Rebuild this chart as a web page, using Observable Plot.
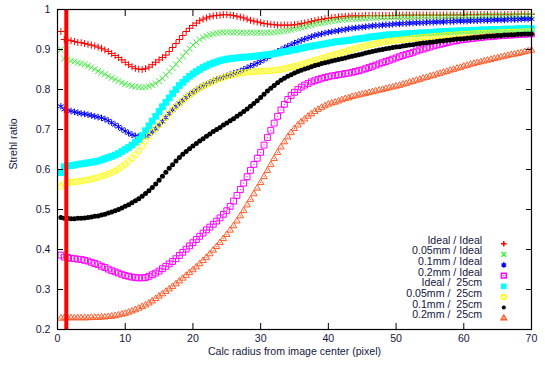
<!DOCTYPE html>
<html>
<head>
<meta charset="utf-8">
<script src="https://cdn.jsdelivr.net/npm/d3@7"></script>
<script src="https://cdn.jsdelivr.net/npm/@observablehq/plot@0.6"></script>
<style>
  html, body { margin: 0; padding: 0; background: #fff; }
  #chart { width: 545px; height: 370px; }
</style>
</head>
<body>
<div id="chart"></div>
<script>
// radius samples (pixel), every half pixel from 0.5 to 70
const radius = Array.from({length: 140}, (_, i) => (i + 1) * 0.5);

const seriesNames = ["Ideal / Ideal", "0.05mm / Ideal", "0.1mm / Ideal", "0.2mm / Ideal",
                     "Ideal /  25cm", "0.05mm /  25cm", "0.1mm /  25cm", "0.2mm /  25cm"];

const idealIdeal = [
0.945,0.925,0.924,0.922,0.920,0.918,0.917,0.915,0.913,0.911,
0.909,0.906,0.903,0.899,0.895,0.890,0.885,0.880,0.874,0.868,
0.862,0.857,0.853,0.851,0.850,0.852,0.856,0.862,0.868,0.874,
0.880,0.886,0.895,0.905,0.915,0.925,0.935,0.945,0.953,0.960,
0.966,0.972,0.976,0.979,0.982,0.984,0.985,0.986,0.987,0.987,
0.986,0.985,0.983,0.981,0.979,0.976,0.973,0.971,0.969,0.967,
0.965,0.964,0.963,0.962,0.961,0.961,0.961,0.961,0.961,0.962,
0.963,0.965,0.966,0.968,0.970,0.972,0.974,0.975,0.977,0.978,
0.979,0.980,0.981,0.982,0.983,0.983,0.984,0.984,0.984,0.984,
0.985,0.985,0.985,0.985,0.985,0.985,0.985,0.985,0.985,0.985,
0.986,0.986,0.986,0.986,0.986,0.986,0.986,0.986,0.986,0.986,
0.986,0.986,0.986,0.986,0.986,0.986,0.986,0.986,0.986,0.986,
0.987,0.987,0.987,0.987,0.987,0.987,0.987,0.987,0.987,0.987,
0.987,0.987,0.987,0.987,0.987,0.988,0.988,0.988,0.988,0.988];

const mm005Ideal = [
0.900,0.877,0.875,0.872,0.870,0.867,0.865,0.863,0.859,0.855,
0.851,0.846,0.842,0.838,0.833,0.829,0.825,0.821,0.817,0.814,
0.811,0.809,0.807,0.806,0.805,0.806,0.808,0.811,0.815,0.821,
0.828,0.836,0.845,0.854,0.863,0.873,0.883,0.893,0.902,0.911,
0.918,0.925,0.930,0.934,0.937,0.939,0.941,0.942,0.943,0.943,
0.943,0.943,0.943,0.942,0.942,0.942,0.942,0.942,0.942,0.942,
0.942,0.942,0.942,0.943,0.944,0.945,0.946,0.948,0.949,0.951,
0.953,0.955,0.957,0.959,0.961,0.963,0.965,0.966,0.968,0.969,
0.971,0.972,0.973,0.974,0.975,0.976,0.976,0.977,0.977,0.978,
0.978,0.979,0.979,0.979,0.980,0.980,0.980,0.980,0.981,0.981,
0.981,0.981,0.981,0.981,0.981,0.982,0.982,0.982,0.982,0.982,
0.982,0.982,0.982,0.982,0.983,0.983,0.983,0.983,0.983,0.983,
0.983,0.983,0.983,0.983,0.984,0.984,0.984,0.984,0.984,0.984,
0.984,0.984,0.984,0.984,0.985,0.985,0.985,0.985,0.985,0.985];

const mm01Ideal = [
0.758,0.750,0.748,0.746,0.744,0.742,0.740,0.739,0.737,0.735,
0.733,0.731,0.729,0.726,0.722,0.717,0.712,0.707,0.701,0.696,
0.691,0.687,0.684,0.682,0.682,0.684,0.688,0.694,0.702,0.711,
0.720,0.730,0.740,0.749,0.758,0.766,0.773,0.780,0.787,0.793,
0.799,0.804,0.809,0.813,0.817,0.821,0.825,0.828,0.831,0.834,
0.837,0.840,0.843,0.846,0.850,0.854,0.858,0.862,0.866,0.870,
0.875,0.880,0.885,0.890,0.895,0.899,0.904,0.908,0.912,0.916,
0.919,0.923,0.926,0.929,0.932,0.935,0.937,0.939,0.941,0.943,
0.944,0.946,0.947,0.949,0.950,0.952,0.953,0.954,0.955,0.956,
0.957,0.958,0.959,0.960,0.960,0.961,0.962,0.962,0.963,0.964,
0.964,0.965,0.965,0.966,0.966,0.967,0.967,0.967,0.968,0.968,
0.968,0.969,0.969,0.969,0.970,0.970,0.970,0.971,0.971,0.971,
0.971,0.972,0.972,0.972,0.973,0.973,0.973,0.973,0.974,0.974,
0.974,0.974,0.975,0.975,0.975,0.975,0.976,0.976,0.976,0.976];

const mm02Ideal = [
0.386,0.381,0.380,0.378,0.377,0.376,0.375,0.373,0.371,0.368,
0.365,0.362,0.358,0.355,0.351,0.347,0.344,0.341,0.338,0.335,
0.333,0.331,0.330,0.329,0.329,0.330,0.333,0.337,0.341,0.346,
0.352,0.358,0.364,0.370,0.377,0.385,0.393,0.401,0.409,0.417,
0.425,0.433,0.441,0.449,0.456,0.463,0.471,0.479,0.488,0.497,
0.508,0.521,0.535,0.550,0.566,0.582,0.598,0.613,0.628,0.643,
0.661,0.680,0.698,0.716,0.733,0.749,0.763,0.775,0.785,0.793,
0.800,0.806,0.811,0.815,0.819,0.822,0.825,0.828,0.830,0.832,
0.834,0.835,0.837,0.838,0.840,0.841,0.843,0.845,0.847,0.849,
0.852,0.855,0.858,0.861,0.864,0.867,0.870,0.873,0.876,0.879,
0.882,0.885,0.888,0.890,0.893,0.896,0.899,0.901,0.904,0.906,
0.909,0.911,0.913,0.915,0.917,0.919,0.921,0.922,0.924,0.925,
0.926,0.927,0.928,0.929,0.930,0.931,0.932,0.932,0.933,0.934,
0.935,0.935,0.936,0.936,0.937,0.937,0.938,0.938,0.939,0.939];

const ideal25cm = [
0.592,0.607,0.609,0.610,0.611,0.613,0.614,0.615,0.617,0.618,
0.620,0.621,0.624,0.627,0.630,0.633,0.636,0.640,0.645,0.650,
0.655,0.661,0.668,0.675,0.685,0.697,0.709,0.721,0.733,0.745,
0.757,0.768,0.779,0.790,0.800,0.810,0.818,0.826,0.833,0.839,
0.845,0.850,0.855,0.859,0.863,0.866,0.869,0.872,0.874,0.876,
0.877,0.878,0.879,0.880,0.881,0.881,0.882,0.883,0.884,0.885,
0.886,0.887,0.888,0.890,0.891,0.893,0.895,0.896,0.898,0.900,
0.901,0.903,0.905,0.907,0.908,0.910,0.911,0.913,0.914,0.916,
0.917,0.919,0.920,0.921,0.922,0.923,0.924,0.926,0.927,0.928,
0.929,0.931,0.932,0.933,0.934,0.935,0.936,0.937,0.937,0.938,
0.938,0.939,0.939,0.940,0.940,0.941,0.941,0.942,0.942,0.943,
0.943,0.944,0.944,0.945,0.945,0.946,0.946,0.946,0.947,0.947,
0.947,0.948,0.948,0.948,0.949,0.949,0.949,0.950,0.950,0.950,
0.950,0.951,0.951,0.951,0.951,0.952,0.952,0.952,0.952,0.952];

const mm005_25cm = [
0.558,0.565,0.567,0.568,0.569,0.570,0.571,0.573,0.574,0.576,
0.578,0.580,0.583,0.586,0.589,0.592,0.596,0.601,0.607,0.613,
0.620,0.628,0.637,0.647,0.658,0.670,0.683,0.694,0.702,0.711,
0.720,0.730,0.740,0.749,0.757,0.765,0.772,0.779,0.786,0.792,
0.798,0.803,0.808,0.812,0.816,0.820,0.824,0.827,0.830,0.833,
0.835,0.837,0.839,0.841,0.842,0.843,0.844,0.845,0.845,0.846,
0.846,0.847,0.847,0.848,0.849,0.850,0.852,0.854,0.856,0.858,
0.860,0.863,0.865,0.868,0.870,0.873,0.875,0.878,0.880,0.883,
0.885,0.888,0.890,0.893,0.895,0.898,0.900,0.903,0.905,0.907,
0.909,0.911,0.913,0.915,0.917,0.918,0.920,0.921,0.922,0.923,
0.924,0.925,0.926,0.927,0.928,0.929,0.930,0.931,0.931,0.932,
0.933,0.934,0.934,0.935,0.936,0.936,0.937,0.937,0.938,0.938,
0.939,0.939,0.940,0.940,0.941,0.941,0.941,0.942,0.942,0.942,
0.943,0.943,0.943,0.944,0.944,0.944,0.944,0.945,0.945,0.945];

const mm01_25cm = [
0.480,0.478,0.478,0.477,0.477,0.478,0.478,0.479,0.480,0.481,
0.483,0.484,0.486,0.488,0.491,0.494,0.497,0.500,0.504,0.508,
0.512,0.517,0.522,0.527,0.533,0.540,0.547,0.555,0.564,0.573,
0.583,0.593,0.603,0.612,0.621,0.630,0.638,0.645,0.652,0.659,
0.665,0.671,0.677,0.683,0.689,0.695,0.700,0.705,0.711,0.716,
0.722,0.727,0.733,0.739,0.745,0.751,0.758,0.765,0.772,0.780,
0.788,0.796,0.803,0.810,0.817,0.823,0.828,0.833,0.837,0.841,
0.845,0.848,0.851,0.854,0.857,0.860,0.862,0.865,0.867,0.869,
0.871,0.873,0.875,0.877,0.879,0.881,0.883,0.885,0.887,0.889,
0.891,0.893,0.895,0.897,0.899,0.900,0.902,0.903,0.905,0.906,
0.907,0.909,0.910,0.911,0.912,0.914,0.915,0.916,0.917,0.918,
0.919,0.920,0.921,0.922,0.923,0.924,0.925,0.926,0.926,0.927,
0.928,0.929,0.930,0.930,0.931,0.932,0.933,0.933,0.934,0.935,
0.935,0.936,0.936,0.937,0.937,0.938,0.938,0.939,0.939,0.939];

const mm02_25cm = [
0.228,0.229,0.229,0.229,0.229,0.229,0.229,0.229,0.229,0.230,
0.230,0.230,0.231,0.231,0.232,0.233,0.234,0.236,0.238,0.240,
0.243,0.246,0.249,0.253,0.257,0.261,0.266,0.271,0.277,0.283,
0.289,0.295,0.301,0.307,0.314,0.321,0.328,0.335,0.342,0.349,
0.356,0.364,0.372,0.380,0.389,0.398,0.407,0.417,0.427,0.437,
0.448,0.459,0.471,0.484,0.497,0.511,0.525,0.539,0.553,0.567,
0.582,0.597,0.612,0.627,0.642,0.656,0.669,0.681,0.692,0.702,
0.711,0.719,0.726,0.733,0.739,0.745,0.750,0.755,0.759,0.763,
0.766,0.768,0.771,0.774,0.777,0.779,0.782,0.784,0.786,0.788,
0.790,0.792,0.794,0.796,0.798,0.800,0.802,0.804,0.806,0.808,
0.810,0.813,0.815,0.818,0.820,0.823,0.825,0.828,0.830,0.833,
0.835,0.838,0.840,0.843,0.845,0.848,0.850,0.853,0.855,0.858,
0.860,0.863,0.865,0.867,0.869,0.871,0.873,0.875,0.877,0.879,
0.881,0.883,0.885,0.887,0.888,0.890,0.892,0.894,0.896,0.898];

const xTicks = [0, 10, 20, 30, 40, 50, 60, 70];
const yTicks = [0.2, 0.3, 0.4, 0.5, 0.6, 0.7, 0.8, 0.9, 1];
const markerLine = [1.3];   // vertical red line position (pixel)

const xLabel = "Calc radius from image center (pixel)";
const yLabel = "Strehl ratio";

// styling per series (gnuplot-like point types)
const seriesValues = [idealIdeal, mm005Ideal, mm01Ideal, mm02Ideal, ideal25cm, mm005_25cm, mm01_25cm, mm02_25cm];
const styles = [
  {color: "#ff0000", symbol: "plus",     r: 2.4, filled: false, center: false},
  {color: "#44ee44", symbol: "times",    r: 2.8, filled: false, center: false},
  {color: "#0000ff", symbol: "asterisk", r: 3.1, filled: false, center: false},
  {color: "#ff00ff", symbol: "square",   r: 3.3, filled: false, center: true},
  {color: "#00ffff", symbol: "square",   r: 3.8, filled: true,  center: false},
  {color: "#ffff00", symbol: "circle",   r: 2.9, filled: false, center: true},
  {color: "#000000", symbol: "circle",   r: 2.5, filled: true,  center: false},
  {color: "#ff5a28", symbol: "triangle", r: 2.4, filled: false, center: true}
];
const legendScale = 0.82;

const textColor = "#16163e";
const marks = [];

seriesValues.forEach((vals, k) => {
  const st = styles[k];
  const data = radius.map((r, i) => ({r, v: vals[i]}));
  const common = {x: "r", y: "v", symbol: () => st.symbol, r: st.r};
  if (st.filled) marks.push(Plot.dot(data, {...common, fill: st.color, stroke: "none"}));
  else marks.push(Plot.dot(data, {...common, fill: "none", stroke: st.color, strokeWidth: 1}));
  if (st.center) marks.push(Plot.dot(data, {x: "r", y: "v", r: 0.6, fill: st.color, stroke: "none"}));
});

// legend (bottom right, inside frame)
seriesNames.forEach((name, k) => {
  const st = styles[k];
  const dy = -11.3 - (seriesNames.length - 1 - k) * 10.63;
  const lr = st.r * legendScale;
  marks.push(Plot.text([name], {frameAnchor: "bottom-right", text: d => d, dx: -49.3, dy, textAnchor: "end", fill: textColor}));
  if (st.filled) marks.push(Plot.dot([name], {frameAnchor: "bottom-right", dx: -27.7, dy, symbol: () => st.symbol, r: lr, fill: st.color, stroke: "none"}));
  else marks.push(Plot.dot([name], {frameAnchor: "bottom-right", dx: -27.7, dy, symbol: () => st.symbol, r: lr, fill: "none", stroke: st.color}));
  if (st.center) marks.push(Plot.dot([name], {frameAnchor: "bottom-right", dx: -27.7, dy, r: 0.6, fill: st.color, stroke: "none"}));
});

marks.push(Plot.ruleX(markerLine, {stroke: "#ff0000", strokeWidth: 4}));

// axes with inward ticks, mirrored
marks.push(Plot.axisX({anchor: "bottom", ticks: xTicks, tickSize: -6, tickPadding: 11, fill: textColor, stroke: "#000", label: null, tickFormat: d => String(d)}));
marks.push(Plot.axisX({anchor: "top", ticks: xTicks, tickSize: -6, stroke: "#000", label: null, tickFormat: () => ""}));
marks.push(Plot.axisY({anchor: "left", ticks: yTicks, tickSize: -6, tickPadding: 13, fill: textColor, stroke: "#000", label: null, tickFormat: d => String(d)}));
marks.push(Plot.axisY({anchor: "right", ticks: yTicks, tickSize: -6, stroke: "#000", label: null, tickFormat: () => ""}));
marks.push(Plot.frame({stroke: "#000", strokeWidth: 1.2}));

marks.push(Plot.text([xLabel], {frameAnchor: "bottom", text: d => d, dy: 25, fill: textColor}));
marks.push(Plot.text([yLabel], {frameAnchor: "left", text: d => d, dx: -44, rotate: -90, fill: textColor}));

const chart = Plot.plot({
  width: 545,
  height: 370,
  marginLeft: 57,
  marginRight: 14,
  marginTop: 9,
  marginBottom: 41,
  x: {domain: [0, 70]},
  y: {domain: [0.2, 1]},
  style: {fontFamily: "'Liberation Sans', Arial, sans-serif", fontSize: "10.6px", background: "#fff", color: textColor},
  marks
});
document.getElementById("chart").appendChild(chart);
</script>
</body>
</html>
